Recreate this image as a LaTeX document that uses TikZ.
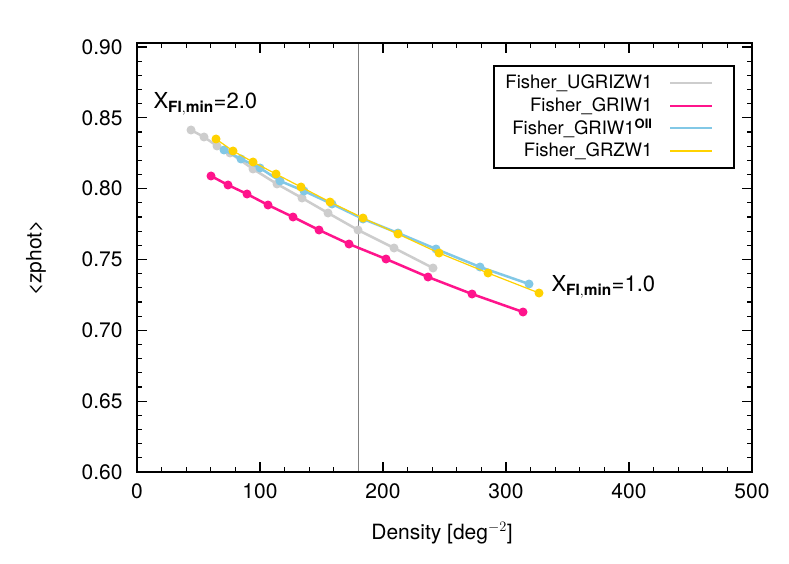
\documentclass[tikz,border=0pt]{standalone}
\usepackage{fontspec}
\setmainfont{TeX Gyre Heros}
\begin{document}
\begin{tikzpicture}[x=1pt,y=-1pt,
  lbl/.style={font=\fontsize{21}{21}\selectfont},
  leg/.style={anchor=east,font=\fontsize{18.5}{18.5}\selectfont},
  dot/.style={circle,fill,inner sep=0pt,minimum size=9pt}]
\definecolor{colg}{RGB}{205,205,205}
\definecolor{colm}{RGB}{255,20,140}
\definecolor{colb}{RGB}{130,200,230}
\definecolor{coly}{RGB}{255,210,0}
\useasboundingbox[fill=white] (0,0) rectangle (789,564);
% ticks
\foreach \i in {0,...,25}{
  \pgfmathsetmacro\xx{137+\i*24.6}
  \pgfmathsetmacro\len{ifthenelse(mod(\i,5)==0,10,5)}
  \draw[line width=1.2pt] (\xx,472) -- ++(0,-\len);
  \draw[line width=1.2pt] (\xx,43) -- ++(0,\len);}
\foreach \i in {0,...,30}{
  \pgfmathsetmacro\yy{472-\i*14.167}
  \pgfmathsetmacro\len{ifthenelse(mod(\i,5)==0,10,5)}
  \draw[line width=1.2pt] (137,\yy) -- ++(\len,0);
  \draw[line width=1.2pt] (752,\yy) -- ++(-\len,0);}
\foreach \v [count=\k from 0] in {0,100,200,300,400,500}
  \node[lbl,anchor=north] (xl\k) at (137+\k*123,480) {\v};
\foreach \v [count=\k from 0] in {0.60,0.65,0.70,0.75,0.80,0.85,0.90}
  \node[lbl,anchor=east] (yl\k) at (126,472-\k*70.83) {\v};
\node[lbl] (xlab) at (442,533) {Density [deg$^{-2}$]};
\node[lbl,rotate=90] (ylab) at (36,258) {<zphot>};
% vertical line
\draw[line width=0.5pt,gray] (358,43) -- (358,472);
% data
\draw[colg,line width=2.5pt] (191,130)--(204,137)--(217,146)--(230,153)--(253,169)--(277,184)--(302,198)--(328,213)--(358,230)--(394,248)--(433,268);
\foreach \p in {(191,130),(204,137),(217,146),(230,153),(253,169),(277,184),(302,198),(328,213),(358,230),(394,248),(433,268)}
  \node[dot,colg] at \p {};
\draw[colm,line width=2.5pt] (211,176)--(228,185)--(247,194)--(268,205)--(293,217)--(319,230)--(349,244)--(386,259)--(428,277)--(472,294)--(523,312);
\foreach \p in {(211,176),(228,185),(247,194),(268,205),(293,217),(319,230),(349,244),(386,259),(428,277),(472,294),(523,312)}
  \node[dot,colm] at \p {};
\draw[colb,line width=2.5pt] (224,150)--(241,159)--(260,168)--(280,181)--(304,191)--(332,204)--(363,219)--(398,233)--(436,249)--(480,267)--(529,284);
\foreach \p in {(224,150),(241,159),(260,168),(280,181),(304,191),(332,204),(363,219),(398,233),(436,249),(480,267),(529,284)}
  \node[dot,colb] at \p {};
\draw[coly,line width=1.2pt] (216,139)--(233,151)--(253,162)--(276,174)--(301,187)--(330,202)--(363,218)--(398,234)--(439,253)--(488,273)--(539,293);
\foreach \p in {(216,139),(233,151),(253,162),(276,174),(301,187),(330,202),(363,218),(398,234),(439,253),(488,273),(539,293)}
  \node[dot,coly] at \p {};
% frame
\draw[line width=1.2pt] (137,43) rectangle (752,472);
% labels
\node[lbl,anchor=west,font=\fontsize{22}{22}\selectfont] (lab2) at (150,104) {X$_{\mathbf{FI,min}}$=2.0};
\node[lbl,anchor=west,font=\fontsize{22}{22}\selectfont] (lab1) at (548,287) {X$_{\mathbf{FI,min}}$=1.0};
% legend
\draw[fill=white,line width=1.2pt] (494,66) rectangle (734,168);
\node[leg] (l1) at (656,83) {Fisher\_UGRIZW1};
\node[leg] (l2) at (656,106) {Fisher\_GRIW1};
\node[leg] (l3) at (656,128) {Fisher\_GRIW1$^{\mathbf{\scriptstyle OII}}$};
\node[leg] (l4) at (656,151) {Fisher\_GRZW1};
\draw[colg,line width=2.5pt] (670,83)--(712,83);
\draw[colm,line width=2.5pt] (670,106)--(712,106);
\draw[colb,line width=2.5pt] (670,128)--(712,128);
\draw[coly,line width=1.2pt] (670,151)--(712,151);
\end{tikzpicture}
\end{document}
